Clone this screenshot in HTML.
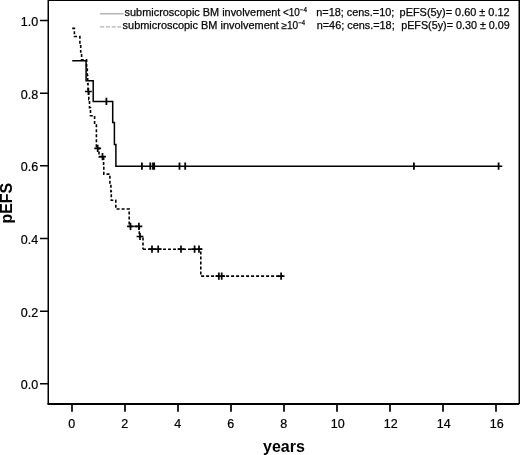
<!DOCTYPE html>
<html><head><meta charset="utf-8"><style>
html,body{margin:0;padding:0;background:#fff;}
svg{display:block;will-change:transform;}
text{font-family:"Liberation Sans",sans-serif;fill:#000;}
</style></head><body>
<svg width="520" height="455" viewBox="0 0 520 455">
<rect width="520" height="455" fill="#fff"/>
<path d="M48.25 0V404.0" fill="none" stroke="#000" stroke-width="1.5"/>
<path d="M47.5 404.0H519.25" fill="none" stroke="#000" stroke-width="1.9"/>
<path d="M519.25 0V404.0" fill="none" stroke="#000" stroke-width="1.5"/>
<path d="M48.25 0.5H519.25" stroke="#000" stroke-width="1"/>
<path d="M40.0 383.80H48.25M40.0 311.14H48.25M40.0 238.48H48.25M40.0 165.82H48.25M40.0 93.16H48.25M40.0 20.50H48.25" stroke="#000" stroke-width="1.5" fill="none"/><path d="M72.00 404.0V411.8M125.00 404.0V411.8M178.00 404.0V411.8M231.00 404.0V411.8M284.00 404.0V411.8M337.00 404.0V411.8M390.00 404.0V411.8M443.00 404.0V411.8M496.00 404.0V411.8" stroke="#000" stroke-width="1.7" fill="none"/>
<g font-size="12.5" stroke="#000" stroke-width="0.22"><text x="38.2" y="389.4" text-anchor="end">0.0</text><text x="38.2" y="316.7" text-anchor="end">0.2</text><text x="38.2" y="244.1" text-anchor="end">0.4</text><text x="38.2" y="171.4" text-anchor="end">0.6</text><text x="38.2" y="98.8" text-anchor="end">0.8</text><text x="38.2" y="26.1" text-anchor="end">1.0</text><text x="71.8" y="428.3" text-anchor="middle">0</text><text x="124.8" y="428.3" text-anchor="middle">2</text><text x="177.8" y="428.3" text-anchor="middle">4</text><text x="230.8" y="428.3" text-anchor="middle">6</text><text x="283.8" y="428.3" text-anchor="middle">8</text><text x="337.7" y="428.3" text-anchor="middle">10</text><text x="390.7" y="428.3" text-anchor="middle">12</text><text x="443.7" y="428.3" text-anchor="middle">14</text><text x="496.7" y="428.3" text-anchor="middle">16</text></g>
<text x="263" y="451.5" font-size="16" font-weight="bold">years</text>
<text transform="translate(12.0,223.6) rotate(-90)" font-size="16" font-weight="bold">pEFS</text>
<polyline points="72.2,60.8 86.1,60.8 86.1,80.8 93.2,80.8 93.2,101.4 112.7,101.4 112.7,122.6 114.4,122.6 114.4,144.4 115.9,144.4 115.9,166.3 502.3,166.3" fill="none" stroke="#000" stroke-width="1.5"/>
<path d="M106.4 97.8V105.0M141.9 162.5V169.7M150.3 162.5V169.7M153.0 162.5V169.7M154.2 162.5V169.7M179.5 162.5V169.7M185.2 162.5V169.7M413.9 162.5V169.7M498.6 162.5V169.7" stroke="#000" stroke-width="1.8"/>
<polyline points="72.2,28.4 74.4,28.4 74.4,36.5 79.9,36.5 79.9,44.1 80.7,44.1 80.7,52.0 81.6,52.0 81.6,59.9 86.6,59.9 86.6,67.8 87.3,67.8 87.3,75.7 87.7,75.7 87.7,83.6 88.0,83.6 88.0,91.5 88.8,91.5 88.8,99.6 89.5,99.6 89.5,107.7 90.5,107.7 90.5,115.8 94.6,115.8 94.6,124.0 96.4,124.0 96.4,148.3 99.0,148.3 99.0,156.7 103.6,156.7 103.6,165.4 103.8,165.4 103.8,174.1 109.9,174.1 109.9,182.9 110.9,182.9 110.9,191.6 111.3,191.6 111.3,200.3 115.8,200.3 115.8,209.0 129.2,209.0 129.2,226.4 139.3,226.4 139.3,236.5 143.0,236.5 143.0,249.2" fill="none" stroke="#000" stroke-width="1.6" stroke-dasharray="3 2" stroke-dashoffset="0.00"/>
<polyline points="143.0,249.2 200.8,249.2 200.8,276.1 283.0,276.1" fill="none" stroke="#000" stroke-width="1.6" stroke-dasharray="3 2"/>
<path d="M88.4 87.9V95.1M85.0 91.5H91.8M97.7 144.7V151.9M94.3 148.3H101.1M102.5 153.1V160.3M99.1 156.7H105.9M130.5 222.8V230.0M127.1 226.4H133.9M138.9 222.8V230.0M135.5 226.4H142.3M140.0 232.9V240.1M136.6 236.5H143.4M152.0 245.6V252.8M148.6 249.2H155.4M158.2 245.6V252.8M154.8 249.2H161.6M181.0 245.6V252.8M177.6 249.2H184.4M194.6 245.6V252.8M191.2 249.2H198.0M199.0 245.6V252.8M195.6 249.2H202.4M218.9 272.5V279.7M215.5 276.1H222.3M221.7 272.5V279.7M218.3 276.1H225.1M281.1 272.5V279.7M277.7 276.1H284.5" stroke="#000" stroke-width="1.7"/>
<path d="M100 13.85H123.6" stroke="#909090" stroke-width="1.0"/>
<path d="M100 26.9H121" stroke="#a0a0a0" stroke-width="1.0" stroke-dasharray="4.2 1.6"/>
<g font-size="10.2" fill="#111" stroke="#111" stroke-width="0.25">
<text x="124.6" y="15.5" textLength="155.8" lengthAdjust="spacingAndGlyphs">submicroscopic BM involvement</text>
<text x="282.9" y="15.5" textLength="16.8" lengthAdjust="spacingAndGlyphs">&lt;10</text>
<text x="299.8" y="12.1" font-size="6.5" textLength="7.2" lengthAdjust="spacingAndGlyphs">&#8722;4</text>
<text x="316.3" y="15.5" textLength="78.0" lengthAdjust="spacingAndGlyphs">n=18; cens.=10;</text>
<text x="399.6" y="15.5" textLength="110.0" lengthAdjust="spacingAndGlyphs">pEFS(5y)= 0.60 &#177; 0.12</text>
<text x="122.6" y="28.7" textLength="156.3" lengthAdjust="spacingAndGlyphs">submicroscopic BM involvement</text>
<text x="281.4" y="28.7" textLength="16.8" lengthAdjust="spacingAndGlyphs">&#8805;10</text>
<text x="298.4" y="25.3" font-size="6.5" textLength="6.8" lengthAdjust="spacingAndGlyphs">&#8722;4</text>
<text x="316.7" y="28.7" textLength="78.0" lengthAdjust="spacingAndGlyphs">n=46; cens.=18;</text>
<text x="401.2" y="28.7" textLength="108.6" lengthAdjust="spacingAndGlyphs">pEFS(5y)= 0.30 &#177; 0.09</text>
</g>
</svg>
</body></html>
